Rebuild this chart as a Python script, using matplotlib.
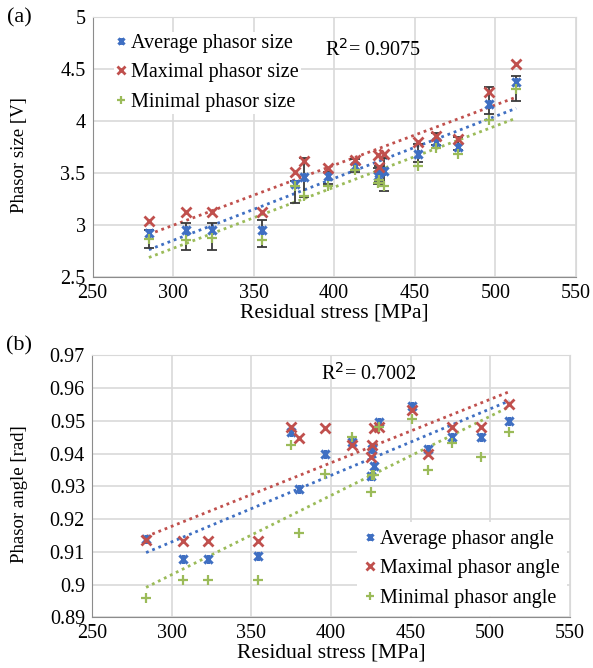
import numpy as np
import matplotlib
matplotlib.use("Agg")
import matplotlib.pyplot as plt
from matplotlib.path import Path
from matplotlib.ticker import FuncFormatter

plt.rcParams["font.family"] = ["Liberation Serif", "DejaVu Serif"]

# (a) phasor size vs residual stress
stress_a = [285, 308, 324, 355, 376, 381, 396, 413, 427, 428, 431, 452, 463, 477, 496, 513]
size_avg = [2.93, 2.95, 2.95, 2.955, 3.40, 3.46, 3.47, 3.57, 3.47, 3.50, 3.52, 3.69, 3.80, 3.75, 4.17, 4.375]
size_max = [3.04, 3.125, 3.125, 3.125, 3.51, 3.62, 3.55, 3.63, 3.68, 3.56, 3.69, 3.80, 3.86, 3.83, 4.28, 4.55]
size_min = [2.87, 2.86, 2.88, 2.86, 3.38, 3.28, 3.38, 3.53, 3.41, 3.44, 3.38, 3.57, 3.74, 3.69, 4.01, 4.31]
bar_lo = [2.78, 2.76, 2.76, 2.79, 3.21, 3.27, 3.40, 3.51, 3.40, 3.43, 3.33, 3.61, 3.77, 3.72, 4.07, 4.20]
bar_hi = [2.95, 3.02, 3.02, 3.05, 3.43, 3.65, 3.51, 3.64, 3.55, 3.57, 3.65, 3.78, 3.89, 3.85, 4.33, 4.44]

# (b) phasor angle vs residual stress
stress_b = [284, 307, 323, 354, 375, 380, 396, 413, 425, 426, 427, 430, 451, 461, 476, 494, 512]
ang_avg = [0.914, 0.9078, 0.9078, 0.9087, 0.9465, 0.9293, 0.9400, 0.9435, 0.9330, 0.9415, 0.9362,
           0.9496, 0.9544, 0.9413, 0.9452, 0.9450, 0.9501]
ang_max = [0.9136, 0.9132, 0.9132, 0.9132, 0.9480, 0.9447, 0.9479, 0.9425, 0.9389, 0.9425, 0.9478,
           0.9480, 0.9532, 0.9400, 0.9481, 0.9481, 0.9550]
ang_min = [0.8958, 0.9014, 0.9014, 0.9014, 0.9425, 0.9156, 0.9339, 0.9452, 0.9282, 0.9336, 0.9336,
           0.9480, 0.9506, 0.9350, 0.9432, 0.9389, 0.9465]

BLUE = "#3f6fc2"
RED = "#c0504d"
GREEN = "#9bbb59"

# excel style "star": x with a vertical bar
star = Path([(-1, -1), (1, 1), (-1, 1), (1, -1), (0, -1.1), (0, 1.1)],
            [Path.MOVETO, Path.LINETO, Path.MOVETO, Path.LINETO, Path.MOVETO, Path.LINETO])


def trend(ax, x, y, color):
    x = np.asarray(x, float)
    k, b = np.polyfit(x, y, 1)
    xs = np.array([x.min(), x.max()])
    ax.plot(xs, k * xs + b, color=color, lw=2, ls=(0, (1, 1.4)), zorder=2)


def style(ax, yticks, ylabel):
    ax.set_xlim(250, 550)
    ax.set_xticks(np.arange(250, 551, 50))
    ax.set_ylim(yticks[0], yticks[-1])
    ax.set_yticks(yticks)
    ax.yaxis.set_major_formatter(FuncFormatter(lambda v, p: f"{round(v, 3):g}"))
    ax.grid(True, color="#d9d9d9", lw=1.2)
    ax.set_axisbelow(True)
    for s in ["top", "right"]:
        ax.spines[s].set_color("#d9d9d9")
    for s in ["left", "bottom"]:
        ax.spines[s].set_color("#8c8c8c")
    ax.tick_params(length=0, labelsize=14.5, pad=5)
    ax.set_xlabel("Residual stress [MPa]", fontsize=15.5, labelpad=0)
    ax.set_ylabel(ylabel, fontsize=13.5)
    ax.yaxis.set_label_coords(-0.134, 0.47)


fig = plt.figure(figsize=(5.93, 6.68), dpi=100)
ax1 = fig.add_axes([0.156, 0.585, 0.815, 0.389])
ax2 = fig.add_axes([0.155, 0.076, 0.806, 0.392])

# top panel
avg = np.array(size_avg)
yerr = [avg - np.array(bar_lo), np.array(bar_hi) - avg]
ax1.errorbar(stress_a, size_avg, yerr=yerr, fmt="none", ecolor="#3a3a3a", elinewidth=1.3,
             capsize=3.5, capthick=1.3, zorder=3)
trend(ax1, stress_a, size_avg, BLUE)
trend(ax1, stress_a, size_max, RED)
trend(ax1, stress_a, size_min, GREEN)
ax1.plot(stress_a, size_avg, ls="none", marker=star, ms=6.5, mew=2.2, color=BLUE, zorder=4,
         label="Average phasor size")
ax1.plot(stress_a, size_max, ls="none", marker="x", ms=7, mew=2, color=RED, zorder=4,
         label="Maximal phasor size")
ax1.plot(stress_a, size_min, ls="none", marker="+", ms=7.5, mew=1.6, color=GREEN, zorder=5,
         label="Minimal phasor size")
style(ax1, [2.5, 3, 3.5, 4, 4.5, 5], "Phasor size [V]")
ax1.legend(loc="upper left", bbox_to_anchor=(0.045, 0.945), fontsize=14.5, frameon=True,
           facecolor="white", edgecolor="none", framealpha=1, handlelength=0.5,
           handletextpad=0.25, labelspacing=0.52, borderpad=0.1, borderaxespad=0,
           fancybox=False, markerscale=0.75)
ax1.text(424, 4.69, "R$^2$= 0.9075", ha="center", va="center", fontsize=14.5)
fig.text(0.032, 0.973, "(a)", fontsize=16, ha="center", va="center")

# bottom panel
trend(ax2, stress_b, ang_avg, BLUE)
trend(ax2, stress_b, ang_max, RED)
trend(ax2, stress_b, ang_min, GREEN)
ax2.plot(stress_b, ang_avg, ls="none", marker=star, ms=6.5, mew=2.2, color=BLUE, zorder=4,
         label="Average phasor angle")
ax2.plot(stress_b, ang_max, ls="none", marker="x", ms=7, mew=2, color=RED, zorder=4,
         label="Maximal phasor angle")
ax2.plot(stress_b, ang_min, ls="none", marker="+", ms=7.5, mew=1.6, color=GREEN, zorder=5,
         label="Minimal phasor angle")
style(ax2, [0.89, 0.9, 0.91, 0.92, 0.93, 0.94, 0.95, 0.96, 0.97], "Phasor angle [rad]")
ax2.legend(loc="lower right", bbox_to_anchor=(0.995, 0.005), fontsize=14.5, frameon=True,
           facecolor="white", edgecolor="none", framealpha=1, handlelength=0.5,
           handletextpad=0.25, labelspacing=0.52, borderpad=0.4, borderaxespad=0,
           fancybox=False, markerscale=0.75)
ax2.text(424, 0.9645, "R$^2$= 0.7002", ha="center", va="center", fontsize=14.5)
fig.text(0.032, 0.482, "(b)", fontsize=16, ha="center", va="center")

fig.savefig("out.png", dpi=100)
